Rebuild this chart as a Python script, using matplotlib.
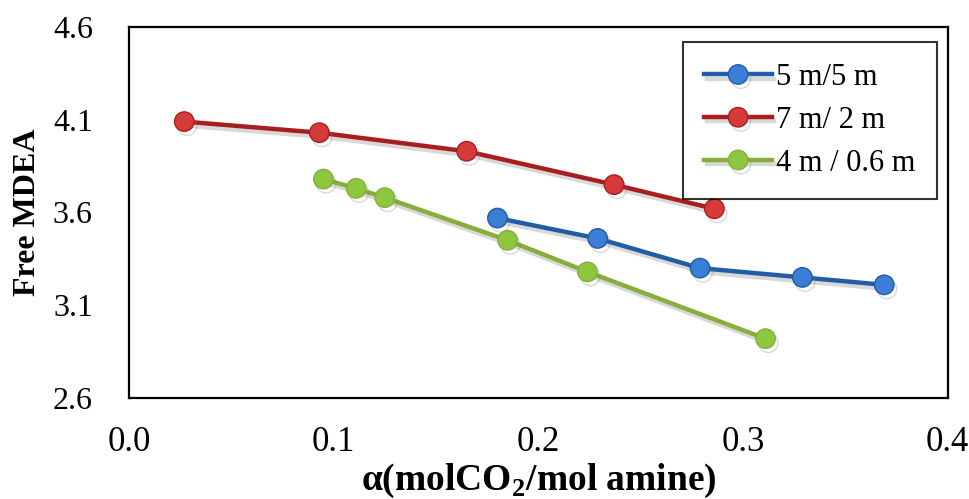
#!/usr/bin/env python3
# -*- coding: utf-8 -*-
"""
Free MDEA frente a la carga de CO2 para tres mezclas de aminas.
"""

import matplotlib
matplotlib.use('Agg')
import matplotlib.pyplot as plt
import matplotlib.patheffects as pe

# Datos
series_labels = ['5 m/5 m', '7 m/ 2 m', '4 m / 0.6 m']

x_blue = [0.180, 0.229, 0.279, 0.329, 0.369]
y_blue = [3.57, 3.46, 3.30, 3.25, 3.21]

x_red = [0.027, 0.093, 0.165, 0.237, 0.286]
y_red = [4.09, 4.03, 3.93, 3.75, 3.62]

x_green = [0.095, 0.111, 0.125, 0.185, 0.224, 0.311]
y_green = [3.78, 3.73, 3.68, 3.45, 3.28, 2.92]

x_ticks = [0.0, 0.1, 0.2, 0.3, 0.4]
y_ticks = [2.6, 3.1, 3.6, 4.1, 4.6]

plt.rcParams['font.family'] = ['Liberation Serif', 'DejaVu Serif']
plt.rcParams['mathtext.fontset'] = 'custom'
plt.rcParams['mathtext.rm'] = 'Liberation Serif'
plt.rcParams['mathtext.bf'] = 'Liberation Serif:bold'


def main():
    fig = plt.figure(figsize=(9.7, 4.99), dpi=100)
    ax = fig.add_axes([0.133, 0.2024, 0.844, 0.7436])

    sombra = [pe.SimpleLineShadow(offset=(2, -3), shadow_color='gray', alpha=0.3),
              pe.Normal()]

    estilos = [
        (x_blue, y_blue, '#1F5DA6', '#3A7FD5'),
        (x_red, y_red, '#A81E1E', '#D63A3A'),
        (x_green, y_green, '#86AF3A', '#8DC63F'),
    ]
    for (xs, ys, c_linea, c_marca), label in zip(estilos, series_labels):
        ax.plot(xs, ys, '-o', color=c_linea, lw=3.2, ms=14,
                markerfacecolor=c_marca, markeredgecolor=c_linea, mew=1,
                label=label, path_effects=sombra)

    ax.set_xlim(0.0, 0.4)
    ax.set_ylim(2.6, 4.6)
    ax.set_xticks(x_ticks)
    ax.set_xticklabels([f'{v:.1f}' for v in x_ticks])
    ax.set_yticks(y_ticks)
    ax.set_yticklabels([f'{v:.1f}' for v in y_ticks])
    ax.tick_params(axis='both', length=0)
    ax.tick_params(axis='x', pad=20, labelsize=25)
    ax.tick_params(axis='y', pad=26, labelsize=23)

    for s in ax.spines.values():
        s.set_linewidth(1.6)
        s.set_color('black')

    ax.set_ylabel('Free MDEA', fontsize=23, fontweight='bold', labelpad=8)
    ax.set_xlabel(r'α(molCO$_{\mathbf{2}}$/mol amine)', fontsize=27,
                  fontweight='bold', labelpad=2)

    leg = ax.legend(loc='upper right', bbox_to_anchor=(0.987, 0.96),
                    fontsize=22, frameon=True, fancybox=False,
                    handlelength=2.2, handletextpad=0.15, borderpad=0.7,
                    labelspacing=0.45, borderaxespad=0)
    leg.get_frame().set_edgecolor('black')
    leg.get_frame().set_linewidth(1.5)

    fig.savefig('out.png', dpi=100)


if __name__ == '__main__':
    main()
